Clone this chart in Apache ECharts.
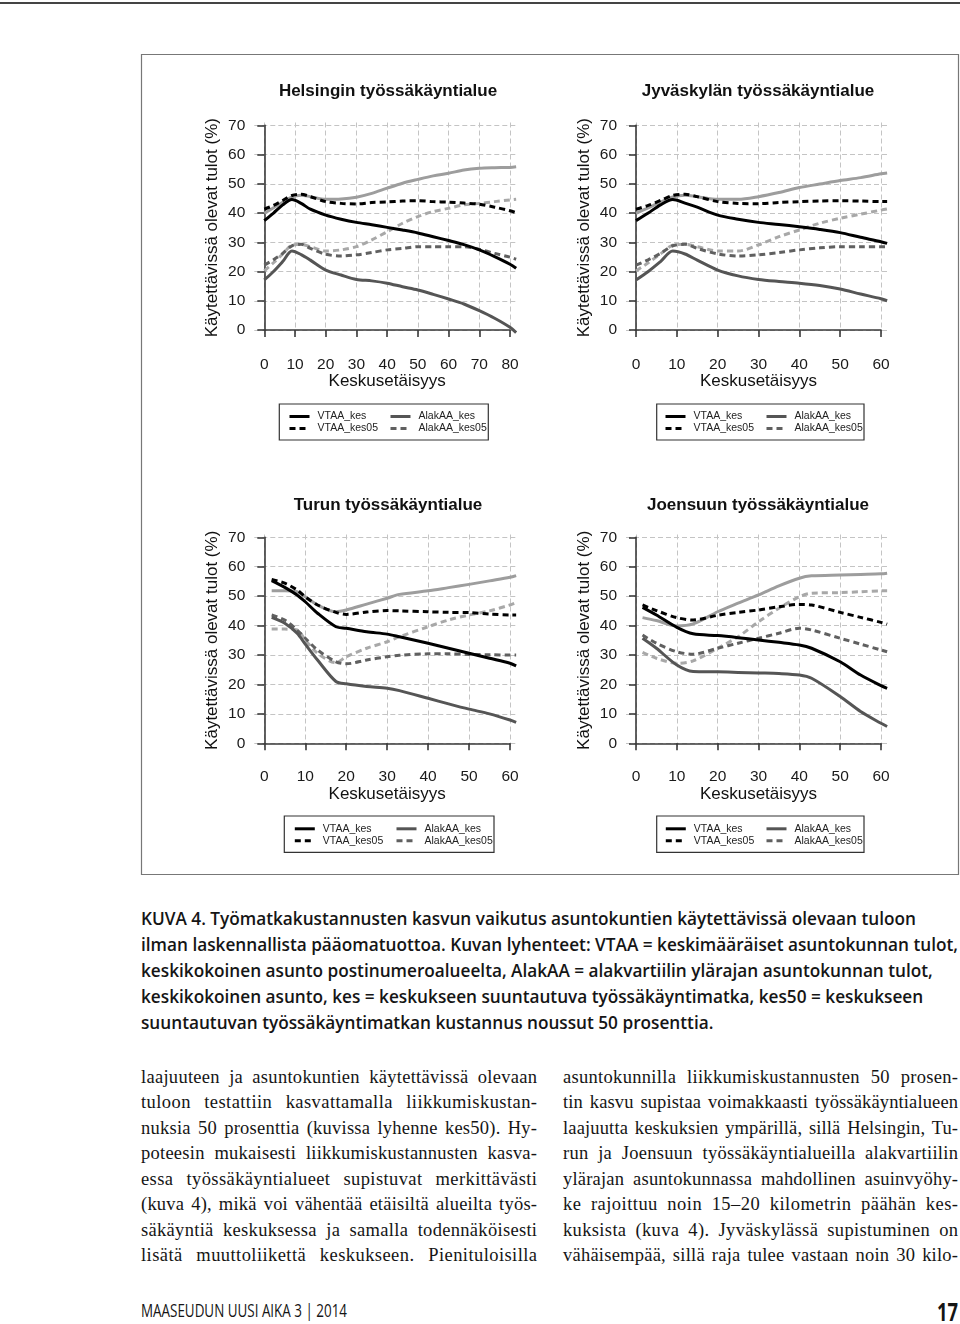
<!DOCTYPE html>
<html><head><meta charset="utf-8">
<script src="https://cdn.jsdelivr.net/npm/echarts@6/dist/echarts.min.js"></script>
<style>
html,body{margin:0;padding:0;background:#fff;}
#page{position:relative;width:960px;height:1324px;overflow:hidden;background:#fff;}
#chart{position:absolute;left:0;top:0;width:960px;height:880px;}
.rule{position:absolute;left:0;top:2px;width:960px;height:1.6px;background:#444;}
.ln{position:absolute;white-space:nowrap;transform-origin:0 50%;display:inline-block;}
.cap{font-family:'Open Sans';font-weight:600;font-size:17.5px;color:#151515;line-height:26px;height:26px;}
.bd{font-family:'Liberation Serif';font-size:18.5px;color:#151515;line-height:26px;height:26px;}
.ft{font-family:'Open Sans';font-size:18px;color:#151515;line-height:26px;height:26px;}
.pg{font-family:'Open Sans';font-weight:700;font-size:25px;color:#151515;line-height:30px;height:30px;}
</style>
</head><body>
<div id="page">
<div class="rule"></div>
<div id="chart"></div>
</div>
<script>
// ---------------- DATA ----------------
const SERIES_NAMES = ['VTAA_kes','VTAA_kes05','AlakAA_kes','AlakAA_kes05'];
const LIGHT_NAMES = ['harmaa_kes','harmaa_kes05'];
const PANEL_TITLES = ['Helsingin työssäkäyntialue','Jyväskylän työssäkäyntialue','Turun työssäkäyntialue','Joensuun työssäkäyntialue'];
const X_NAME = 'Keskusetäisyys';
const Y_NAME = 'Käytettävissä olevat tulot (%)';

// Helsinki
const helX            = [0,3,6,9,12,15,20,25,30,35,40,45,50,55,60,65,70,75,80,82];
const helVTAA_kes     = [37.4,40.0,42.8,44.6,43.3,41.3,39.3,37.9,36.8,36.0,35.1,34.2,33.2,31.9,30.6,29.2,27.4,25.1,22.5,21.1];
const helVTAA_kes05   = [41.3,42.6,44.3,46.0,46.4,45.6,43.9,43.3,43.1,43.6,43.8,44.1,44.2,43.9,43.7,43.4,43.0,42.0,40.8,40.1];
const helAlakAA_kes   = [17.1,20.0,23.4,27.0,25.8,23.9,20.5,18.8,17.3,16.8,16.0,14.8,13.7,12.2,10.6,8.9,6.6,4.0,0.9,-0.9];
const helAlakAA_kes05 = [22.2,24.0,26.2,28.8,29.3,27.9,25.9,25.3,25.7,26.5,27.4,27.9,28.5,28.5,28.5,28.5,27.6,26.2,24.9,24.2];
const helLight        = [39.9,41.8,43.7,45.5,46.1,45.6,44.7,44.8,45.4,46.7,48.5,50.2,51.5,52.7,53.6,54.7,55.3,55.5,55.6,55.8];
const helLight05      = [20.2,23.0,26.0,29.0,29.3,28.5,27.0,27.4,28.5,30.8,33.6,36.5,38.8,40.5,41.6,42.8,43.3,43.9,44.5,44.7];

// Jyväskylä
const jyvX            = [0,3,6,9,12,15,20,25,30,35,40,45,50,55,60,61.5];
const jyvVTAA_kes     = [37.4,40.0,42.8,44.6,43.4,42.0,39.3,37.9,36.8,36.1,35.3,34.4,33.3,31.7,30.2,29.6];
const jyvVTAA_kes05   = [41.3,42.6,44.3,46.0,46.4,45.6,43.9,43.3,43.2,43.6,43.9,44.1,44.2,44.1,43.9,43.9];
const jyvAlakAA_kes   = [17.1,20.0,23.4,27.0,26.0,23.9,20.5,18.5,17.3,16.6,16.0,15.2,14.0,12.3,10.7,10.0];
const jyvAlakAA_kes05 = [22.2,24.0,26.2,28.8,29.3,27.9,26.0,25.3,25.7,26.5,27.4,28.1,28.5,28.5,28.5,28.5];
const jyvLight        = [39.9,41.8,43.7,45.5,46.1,45.6,44.7,44.7,45.6,47.0,48.7,49.9,51.1,52.1,53.4,53.7];
const jyvLight05      = [20.2,23.0,26.0,29.0,29.3,28.5,27.0,27.0,29.1,31.9,34.2,36.5,38.2,39.6,41.0,41.4];

// Turku
const turX            = [1.8,5,8,10,13,17.5,20,25,30,33,40,45,50,55,60,61.5];
const turVTAA_kes     = [55.3,53.0,50.4,48.1,44.2,39.6,39.1,37.9,37.1,36.2,34.0,32.3,30.6,28.9,27.2,26.3];
const turVTAA_kes05   = [55.7,54.4,52.1,49.8,47.0,44.5,43.8,44.6,45.1,45.0,44.7,44.5,44.4,43.9,43.6,43.6];
const turAlakAA_kes   = [42.8,40.8,37.4,33.7,28.3,21.0,20.2,19.3,18.7,17.9,15.3,13.4,11.6,10.0,7.9,7.1];
const turAlakAA_kes05 = [43.6,41.9,38.5,35.7,31.7,27.7,27.0,28.3,29.4,29.9,30.4,30.4,30.2,30.1,30.0,30.0];
const turLight        = [51.8,51.8,51.5,49.8,47.0,44.7,45.3,47.3,49.3,50.6,51.8,52.9,54.0,55.2,56.4,57.0];
const turLight05      = [38.8,38.8,38.5,35.1,30.6,27.4,29.4,32.3,34.5,36.2,39.6,41.9,43.6,45.0,47.0,47.8];

// Joensuu
const joeX            = [1.6,5,10,14,20,25,30,35,40,43,50,55,60,61.5];
const joeVTAA_kes     = [46.2,43.6,39.4,37.2,36.6,35.9,35.1,34.3,33.4,32.3,27.7,23.2,19.6,18.7];
const joeVTAA_kes05   = [47.0,45.1,42.7,41.9,43.5,44.5,45.3,46.4,47.2,47.0,44.5,42.8,41.1,40.5];
const joeAlakAA_kes   = [35.7,32.3,26.6,24.4,24.3,24.1,23.9,23.7,23.2,22.1,15.9,10.8,6.8,5.7];
const joeAlakAA_kes05 = [36.8,34.0,31.1,30.3,32.3,34.0,35.7,37.4,39.1,38.5,35.7,33.7,31.7,31.1];
const joeLight        = [42.7,41.7,39.9,40.6,44.7,47.6,50.4,53.5,56.1,56.9,57.2,57.4,57.6,57.8];
const joeLight05      = [30.9,28.9,27.2,28.0,32.3,36.2,41.3,45.9,49.8,51.0,51.2,51.5,51.8,51.8];

const Y_MAX = 70;
const X_MAX = [80, 60, 60, 60];

// ---------------- LAYOUT (pixels) ----------------
const PANELS = [
  {x:helX, s:[helVTAA_kes,helVTAA_kes05,helAlakAA_kes,helAlakAA_kes05], l:[helLight,helLight05],
   bx0:264.3,bx1:510,by0:330,by1:125.3, yAxisX:254.3, xAxisY:339.3, gR:516.7, gT:122.5, gB:334,
   title:[388,91.7], lg:{box:[279.3,404,209,36], c1:288, c2:389, top:410.5}},
  {x:jyvX, s:[jyvVTAA_kes,jyvVTAA_kes05,jyvAlakAA_kes,jyvAlakAA_kes05], l:[jyvLight,jyvLight05],
   bx0:636,bx1:881,by0:330,by1:125.3, yAxisX:626, xAxisY:339.3, gR:888.3, gT:122.5, gB:334,
   title:[758,91.7], lg:{box:[656.7,404,207.3,36], c1:664, c2:765, top:410.5}},
  {x:turX, s:[turVTAA_kes,turVTAA_kes05,turAlakAA_kes,turAlakAA_kes05], l:[turLight,turLight05],
   bx0:264.3,bx1:510,by0:743.3,by1:537.3, yAxisX:254.3, xAxisY:751.7, gR:516.7, gT:534.5, gB:747,
   title:[388,505], lg:{box:[284.3,816,209.7,36.3], c1:293.3, c2:395, top:822.8}},
  {x:joeX, s:[joeVTAA_kes,joeVTAA_kes05,joeAlakAA_kes,joeAlakAA_kes05], l:[joeLight,joeLight05],
   bx0:636,bx1:881,by0:743.3,by1:537.3, yAxisX:626, xAxisY:751.7, gR:888.3, gT:534.5, gB:747,
   title:[758,505], lg:{box:[656.7,816,207.3,36.3], c1:664.3, c2:765, top:822.8}}
];

const FONT = '"Liberation Sans", Arial, sans-serif';
const STYLES = {
  'VTAA_kes':    {color:'#000000', type:'solid'},
  'VTAA_kes05':  {color:'#000000', type:[6,4]},
  'AlakAA_kes':  {color:'#555555', type:'solid'},
  'AlakAA_kes05':{color:'#606060', type:[6,4]},
  'harmaa_kes':  {color:'#9d9d9d', type:'solid'},
  'harmaa_kes05':{color:'#a8a8a8', type:[6,4]}
};

const grids=[], xAxes=[], yAxes=[], series=[], legends=[], graphics=[];

graphics.push({type:'rect', shape:{x:141.5,y:54.5,width:817,height:820}, style:{fill:'none',stroke:'#777',lineWidth:1.2}, silent:true});

PANELS.forEach((p, i) => {
  const xMax = X_MAX[i];
  const sx = (p.bx1 - p.bx0) / xMax;
  const sy = (p.by0 - p.by1) / Y_MAX;
  const gA = grids.length;
  grids.push({left:p.yAxisX, top:p.gT, width:p.gR - p.yAxisX, height:p.gB - p.gT});
  const xa0 = (p.yAxisX - p.bx0) / sx, xa1 = (p.gR - p.bx0) / sx;
  const ya0 = -(p.gB - p.by0) / sy, ya1 = (p.by0 - p.gT) / sy;
  const split = {show:true, showMinLine:false, showMaxLine:false, lineStyle:{color:'#c4c4c4', width:1, type:[5,3]}};
  xAxes.push({gridIndex:gA, type:'value', min:xa0, max:xa1, splitNumber:Math.round((xa1-xa0)/10.6),
    axisLine:{show:false}, axisTick:{show:false}, axisLabel:{show:false}, splitLine:split});
  yAxes.push({gridIndex:gA, type:'value', min:ya0, max:ya1, splitNumber:7,
    axisLine:{show:false}, axisTick:{show:false}, axisLabel:{show:false}, splitLine:split});
  const gB = grids.length;
  grids.push({left:p.bx0, top:p.by1, width:p.bx1 - p.bx0, height:p.by0 - p.by1});
  const axLine = {show:true, lineStyle:{color:'#3a3a3a', width:1.6}};
  xAxes.push({gridIndex:gB, type:'value', min:0, max:xMax, interval:10, position:'bottom', offset:p.xAxisY - p.by0,
    axisLine:axLine, axisTick:{show:true, length:7, lineStyle:{color:'#3a3a3a', width:1.6}},
    axisLabel:{fontFamily:FONT, fontSize:15.5, color:'#1a1a1a', margin:17},
    splitLine:{show:false},
    name:X_NAME, nameLocation:'middle', nameGap:32, nameTextStyle:{fontFamily:FONT, fontSize:17, color:'#111'}});
  yAxes.push({gridIndex:gB, type:'value', min:0, max:Y_MAX, interval:10, position:'left', offset:p.bx0 - p.yAxisX,
    axisLine:axLine, axisTick:{show:true, length:7, lineStyle:{color:'#3a3a3a', width:1.6}},
    axisLabel:{fontFamily:FONT, fontSize:15.5, color:'#1a1a1a', margin:9},
    splitLine:{show:false},
    name:Y_NAME, nameLocation:'middle', nameRotate:90, nameGap:33, nameTextStyle:{fontFamily:FONT, fontSize:17, color:'#111'}});
  const addSeries = (name, ys) => {
    const st = STYLES[name];
    series.push({name, type:'line', xAxisIndex:gA, yAxisIndex:gA, symbol:'none', clip:false,
      smooth:0.3,
      data:p.x.map((xv, k) => [xv, ys[k]]),
      lineStyle:{color:st.color, width:3, type:st.type, cap:'butt', join:'round'},
      itemStyle:{color:st.color}, emphasis:{disabled:true}, z:2});
  };
  addSeries(LIGHT_NAMES[0], p.l[0]);
  addSeries(LIGHT_NAMES[1], p.l[1]);
  [3,2,1,0].forEach(k => addSeries(SERIES_NAMES[k], p.s[k]));
  graphics.push({type:'text', x:p.title[0], y:p.title[1], silent:true,
    style:{text:PANEL_TITLES[i], align:'center', verticalAlign:'middle', font:'bold 17px ' + FONT, fill:'#111'}});
  const b = p.lg.box;
  graphics.push({type:'rect', shape:{x:b[0],y:b[1],width:b[2],height:b[3]}, style:{fill:'#fff',stroke:'#333',lineWidth:1.2}, silent:true, z:-1});
  const lgCommon = {orient:'vertical', top:p.lg.top, itemWidth:20, itemHeight:12, itemGap:0, padding:0,
    selectedMode:false, itemStyle:{opacity:0}, lineStyle:{width:3},
    textStyle:{fontFamily:FONT, fontSize:10.5, color:'#222', lineHeight:12, padding:[0,0,0,3]}};
  legends.push(Object.assign({}, lgCommon, {left:p.lg.c1, data:[SERIES_NAMES[0], SERIES_NAMES[1]]}));
  legends.push(Object.assign({}, lgCommon, {left:p.lg.c2, data:[SERIES_NAMES[2], SERIES_NAMES[3]]}));
});

const chart = echarts.init(document.getElementById('chart'), null, {renderer:'canvas'});
chart.setOption({animation:false, backgroundColor:'transparent', grid:grids, xAxis:xAxes, yAxis:yAxes,
  series, legend:legends, graphic:graphics});

// ---------------- TEXT ----------------
const CAPTION = [
  'KUVA 4. Työmatkakustannusten kasvun vaikutus asuntokuntien käytettävissä olevaan tuloon',
  'ilman laskennallista pääomatuottoa. Kuvan lyhenteet: VTAA = keskimääräiset asuntokunnan tulot,',
  'keskikokoinen asunto postinumeroalueelta, AlakAA = alakvartiilin ylärajan asuntokunnan tulot,',
  'keskikokoinen asunto, kes = keskukseen suuntautuva työssäkäyntimatka, kes50 = keskukseen',
  'suuntautuvan työssäkäyntimatkan kustannus noussut 50 prosenttia.'
];
const BODY_LEFT = [
  'laajuuteen ja asuntokuntien käytettävissä olevaan',
  'tuloon testattiin kasvattamalla liikkumiskustan-',
  'nuksia 50 prosenttia (kuvissa lyhenne kes50). Hy-',
  'poteesin mukaisesti liikkumiskustannusten kasva-',
  'essa työssäkäyntialueet supistuvat merkittävästi',
  '(kuva 4), mikä voi vähentää etäisiltä alueilta työs-',
  'säkäyntiä keskuksessa ja samalla todennäköisesti',
  'lisätä muuttoliikettä keskukseen. Pienituloisilla'
];
const BODY_RIGHT = [
  'asuntokunnilla liikkumiskustannusten 50 prosen-',
  'tin kasvu supistaa voimakkaasti työssäkäyntialueen',
  'laajuutta keskuksien ympärillä, sillä Helsingin, Tu-',
  'run ja Joensuun työssäkäyntialueilla alakvartiilin',
  'ylärajan asuntokunnassa mahdollinen asuinvyöhy-',
  'ke rajoittuu noin 15–20 kilometrin päähän kes-',
  'kuksista (kuva 4). Jyväskylässä supistuminen on',
  'vähäisempää, sillä raja tulee vastaan noin 30 kilo-'
];
const FOOTER_TEXT = 'MAASEUDUN UUSI AIKA  3 | 2014';
const PAGE_NO = '17';

const page = document.getElementById('page');
function addLine(text, cls, x, cy, h) {
  const el = document.createElement('span');
  el.className = 'ln ' + cls;
  el.textContent = text;
  el.style.left = x + 'px';
  el.style.top = (cy - h/2) + 'px';
  page.appendChild(el);
  return el;
}
function justify(el, target) {
  let w = el.getBoundingClientRect().width;
  const chars = el.textContent.length;
  const n = (el.textContent.match(/ /g) || []).length;
  if (w < target) {
    const ls = Math.min(0.5, (target - w) * 0.45 / chars);
    el.style.letterSpacing = ls + 'px';
    w = el.getBoundingClientRect().width - ls;
    if (n && w < target) el.style.wordSpacing = ((target - w) / n) + 'px';
  } else if (w > target) {
    el.style.transform = 'scaleX(' + (target / w) + ')';
  }
}
const capEls = CAPTION.map((t, k) => addLine(t, 'cap', 141, 918 + k*26, 26));
const capScale = 817 / capEls[1].getBoundingClientRect().width;
capEls.forEach(el => el.style.transform = 'scaleX(' + capScale + ')');
BODY_LEFT.forEach((t, k) => justify(addLine(t, 'bd', 141, 1077 + k*25.45, 26), 396));
BODY_RIGHT.forEach((t, k) => justify(addLine(t, 'bd', 563, 1077 + k*25.45, 26), 395));
const f = addLine(FOOTER_TEXT, 'ft', 141, 1310, 26);
f.style.transform = 'scaleX(' + (206 / f.getBoundingClientRect().width) + ')';
const pn = addLine(PAGE_NO, 'pg', 937, 1311, 30);
pn.style.transform = 'scaleX(' + (21 / pn.getBoundingClientRect().width) + ')';
</script>
</body></html>
